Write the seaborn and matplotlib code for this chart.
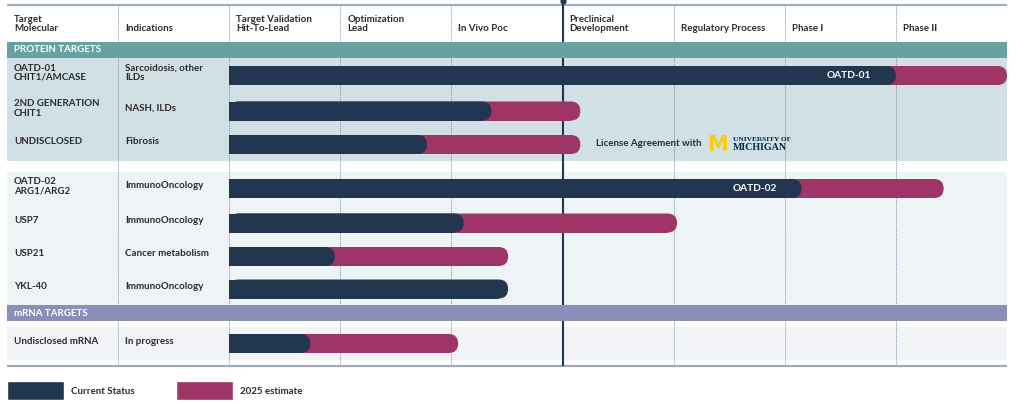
import matplotlib
matplotlib.use("Agg")
import matplotlib.pyplot as plt
import matplotlib.colors as mcolors
import pandas as pd
import seaborn as sns
from matplotlib.patches import FancyBboxPatch, Patch, Rectangle

# ---- data ----
TABLE_COLS = ["Target\nMolecular", "Indications"]
STAGES = ["Target Validation\nHit-To-Lead", "Optimization\nLead", "In Vivo Poc",
          "Preclinical\nDevelopment", "Regulatory Process", "Phase I", "Phase II"]
TARGETS = ["OATD-01\nCHIT1/AMCASE", "2ND GENERATION\nCHIT1", "UNDISCLOSED",
           "OATD-02\nARG1/ARG2", "USP7", "USP21", "YKL-40", "Undisclosed mRNA"]
INDICATIONS = ["Sarcoidosis, other\nILDs", "NASH, ILDs", "Fibrosis", "ImmunoOncology",
               "ImmunoOncology", "Cancer metabolism", "ImmunoOncology", "In progress"]
CURRENT = [6.0, 2.36, 1.78, 5.15, 2.11, 0.95, 2.51, 0.73]
ESTIMATE_2025 = [7.0, 3.16, 3.16, 6.43, 4.03, 2.51, None, 2.06]
BAR_TAGS = ["OATD-01", "", "", "OATD-02", "", "", "", ""]
GROUPS = ["PROTEIN TARGETS", "mRNA TARGETS"]
STATUS = ["Current Status", "2025 estimate"]
NOW_STAGE = 3

# ---- layout (y in pixel rows from the top, x in stage widths) ----
ROW_Y = [75.5, 111, 144.5, 188.5, 223, 256.5, 289, 343.5]
BAR_H = 19
PX = 111.14  # pixels per stage
FS = 7

NAVY = "#22374f"
MAGENTA = "#9e3566"
TEAL = "#67a1a2"
LAV = "#8a8fba"
TXT = "#2b2b2b"
GRID = "#8393a6"

sns.set_style("white")
plt.rcParams["font.family"] = ["Lato", "DejaVu Sans"]

rows = []
for y, c, e in zip(ROW_Y, CURRENT, ESTIMATE_2025):
    rows.append({"y": y, "status": STATUS[0], "end": c})
    if e is not None:
        rows.append({"y": y, "status": STATUS[1], "end": e})
df = pd.DataFrame(rows)

fig = plt.figure(figsize=(10.24, 4.04), dpi=100)
ax = fig.add_axes([0, 0, 1, 1])

sns.barplot(data=df, x="end", y="y", hue="status", hue_order=[STATUS[1], STATUS[0]],
            palette={STATUS[0]: NAVY, STATUS[1]: MAGENTA}, orient="y", saturation=1,
            native_scale=True, dodge=False, errorbar=None, legend=False, ax=ax)

# turn seaborn's rectangles into bars with a rounded right end
r = BAR_H / 2 / PX
for p in list(ax.patches):
    x0, w = p.get_x(), p.get_width()
    yc = p.get_y() + p.get_height() / 2
    col = p.get_facecolor()
    z = 4 if mcolors.same_color(col, NAVY) else 3
    p.remove()
    ax.add_patch(Rectangle((x0, yc - BAR_H / 2), w - r, BAR_H, fc=col, lw=0, zorder=z))
    ax.add_patch(FancyBboxPatch((x0, yc - BAR_H / 2), w, BAR_H,
                                boxstyle=f"round,pad=0,rounding_size={r}",
                                mutation_aspect=PX, fc=col, lw=0, zorder=z))

# backgrounds and group bands
left, right = -2, 7
ax.add_patch(Rectangle((left, 57), right - left, 104, fc="#d0e0e4", lw=0, zorder=0))
ax.add_patch(Rectangle((left, 172), right - left, 133, fc="#eef4f5", lw=0, zorder=0))
ax.add_patch(Rectangle((left, 326.5), right - left, 33.5, fc="#f1f3f7", lw=0, zorder=0))
ax.add_patch(Rectangle((left, 41.5), right - left, 16, fc=TEAL, lw=0, zorder=5))
ax.add_patch(Rectangle((left, 305), right - left, 16, fc=LAV, lw=0, zorder=5))
ax.text(left + 0.063, 49.5, GROUPS[0], color="white", fontsize=FS, fontweight="bold",
        va="center", zorder=6)
ax.text(left + 0.063, 313, GROUPS[1], color="white", fontsize=FS, fontweight="bold",
        va="center", zorder=6)

# grid lines
ax.hlines([5, 366], left, right, color="#9cadbd", lw=1.6, zorder=2)
dotted = [c for c in range(-1, 7) if c != NOW_STAGE]
ax.vlines(dotted, 5, 366, color=GRID, lw=0.7, linestyles=(0, (1, 1)), zorder=1)
ax.vlines(NOW_STAGE, 0, 366, color=NAVY, lw=1.5, zorder=2)
ax.plot(NOW_STAGE, 0.5, marker="o", ms=3.5, color=NAVY, zorder=2, clip_on=False)

# header
for i, lab in enumerate(TABLE_COLS + STAGES):
    ax.text(left + i + 0.063, 31, lab, color=TXT, fontsize=FS, fontweight="bold",
            va="baseline", ha="left", linespacing=1.0)

# row labels
for y, t, ind in zip(ROW_Y, TARGETS, INDICATIONS):
    ax.text(left + 0.063, y - 2.5, t, color=TXT, fontsize=FS, fontweight="bold",
            va="center", linespacing=1.0)
    ax.text(left + 1.063, y - 2.5, ind, color=TXT, fontsize=FS, fontweight="bold",
            va="center", linespacing=1.0)

for y, c, tag in zip(ROW_Y, CURRENT, BAR_TAGS):
    if tag:
        ax.text(c - 0.22, y, tag, color="white", fontsize=FS + 0.3, fontweight="bold",
                ha="right", va="center", zorder=6)

# licence note with the Michigan wordmark
ax.text(NOW_STAGE + 0.3, 144, "License Agreement with", color=TXT, fontsize=FS,
        fontweight="bold", va="center")
ax.text(NOW_STAGE + 1.3, 145, "M", color="#ffcb05", fontsize=15, fontweight="heavy",
        family="DejaVu Sans", va="center", ha="left")
ax.text(NOW_STAGE + 1.53, 139.5, "UNIVERSITY OF", color="#00274c", fontsize=5.3,
        fontweight="bold", family="Liberation Serif", va="center")
ax.text(NOW_STAGE + 1.53, 147.5, "MICHIGAN", color="#00274c", fontsize=7.2,
        fontweight="bold", family="Liberation Serif", va="center")

# legend
handles = [Patch(fc=NAVY), Patch(fc=MAGENTA)]
ax.legend(handles, STATUS, loc="lower left", bbox_to_anchor=(7 / 1024, 4 / 404),
          ncol=2, frameon=False, prop={"size": FS, "weight": "bold"},
          labelcolor=TXT, handlelength=5.9, handleheight=2.6, handletextpad=0.7,
          columnspacing=4.2, borderpad=0, borderaxespad=0)

ax.set_xlim(left - 7 / PX, right + 17 / PX)
ax.set_ylim(404, 0)
ax.axis("off")

fig.savefig("out.png", dpi=100)
